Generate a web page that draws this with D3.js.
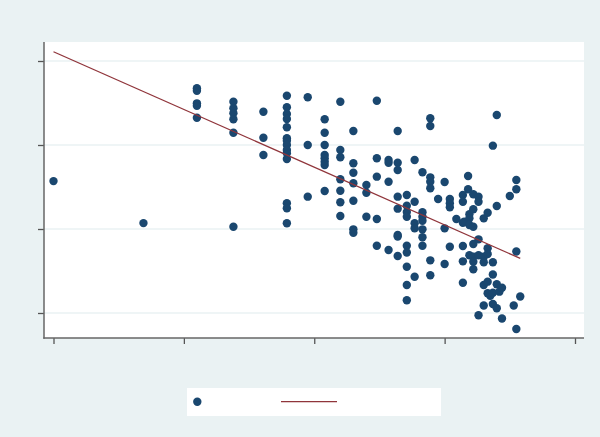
<!DOCTYPE html>
<html>
<head>
<meta charset="utf-8">
<script src="https://cdn.jsdelivr.net/npm/d3@7"></script>
<style>
  html, body { margin: 0; padding: 0; background: #EAF2F3; }
  svg { display: block; }
</style>
</head>
<body>
<svg id="chart" width="600" height="437"></svg>
<script>
// ---- data ----
const pointX = [
  0, 6.9,
  11.0, 11.0, 11.0, 11.0, 11.0,
  13.8, 13.8, 13.8, 13.8, 13.8, 13.8,
  16.1, 16.1, 16.1,
  17.9, 17.9, 17.9, 17.9, 17.9, 17.9, 17.9, 17.9, 17.9, 17.9, 17.9, 17.9, 17.9, 17.9,
  19.5, 19.5, 19.5,
  20.8, 20.8, 20.8, 20.8, 20.8, 20.8, 20.8, 20.8,
  22.0, 22.0, 22.0, 22.0, 22.0, 22.0, 22.0,
  23.0, 23.0, 23.0, 23.0, 23.0, 23.0, 23.0,
  24.0, 24.0, 24.0,
  24.8, 24.8, 24.8, 24.8, 24.8,
  25.7, 25.7, 25.7, 25.7,
  26.4, 26.4, 26.4, 26.4, 26.4, 26.4, 26.4, 26.4,
  27.1, 27.1, 27.1, 27.1, 27.1, 27.1, 27.1, 27.1, 27.1,
  27.7, 27.7, 27.7, 27.7, 27.7,
  28.3, 28.3, 28.3, 28.3, 28.3, 28.3, 28.3,
  28.9, 28.9, 28.9, 28.9, 28.9, 28.9, 28.9,
  29.5,
  30.0, 30.0, 30.0,
  30.4, 30.4, 30.4, 30.4,
  30.9,
  31.4, 31.4, 31.4, 31.4, 31.4, 31.4,
  31.5,
  31.8, 31.8,
  31.9, 31.9, 31.9, 31.9,
  32.2, 32.2, 32.2, 32.2, 32.2, 32.2, 32.2,
  32.6, 32.6, 32.6, 32.6, 32.6,
  33.0, 33.0, 33.0, 33.0, 33.0,
  33.3, 33.3, 33.3, 33.3, 33.3,
  33.5,
  33.7, 33.7, 33.7, 33.7, 33.7,
  34.0, 34.0, 34.0, 34.0,
  34.2,
  34.4, 34.4,
  35.0,
  35.3,
  35.5, 35.5, 35.5, 35.5,
  35.8
];
const pointY = [
  15.7, 10.7,
  26.75, 26.46, 24.96, 24.68, 23.25,
  25.15, 24.37, 23.77, 23.06, 21.46, 10.27,
  23.96, 20.87, 18.81,
  25.87, 24.49, 23.69, 23.10, 22.11, 20.80, 20.51, 20.0, 19.40, 19.01, 18.33, 13.06, 12.46, 10.68,
  25.68, 20.0, 13.85,
  23.06, 21.46, 20.0, 18.81, 18.42, 18.01, 17.62, 14.52,
  25.15, 19.40, 18.54, 15.92, 14.56, 13.18, 11.55,
  21.67, 17.82, 16.70, 15.44, 13.37, 9.96, 9.56,
  15.24, 14.32, 11.46,
  25.27, 18.42, 16.23, 11.19, 8.01,
  18.21, 17.89, 15.63, 7.5,
  21.67, 17.89, 17.02, 13.85, 12.42, 9.29, 9.1, 6.79,
  14.05, 12.77, 12.02, 11.46, 8.01, 7.2, 5.51, 3.33, 1.51,
  18.21, 13.25, 10.68, 10.08, 4.32,
  16.75, 11.99, 11.46, 10.99, 9.96, 9.01, 8.01,
  23.18, 22.26, 16.15, 15.63, 14.85, 6.27, 4.5,
  13.57,
  15.6, 10.08, 5.83,
  13.57, 13.06, 12.58, 7.89,
  11.19,
  14.05, 13.25, 10.75, 7.98, 6.15, 3.61,
  10.87,
  16.31, 14.73,
  11.75, 11.27, 10.48, 6.87,
  14.13, 12.35, 10.27, 8.21, 6.70, 6.11, 5.2,
  13.85, 13.25, 8.77, 6.87, -0.27,
  11.27, 6.70, 6.04, 3.33, 0.89,
  11.94, 7.70, 7.02, 3.73, 2.35,
  2.06,
  19.92, 6.04, 4.58, 2.42, 1.07,
  23.57, 12.74, 3.42, 0.56,
  2.54,
  3.01, -0.65,
  13.93,
  0.89,
  15.83, 14.73, 7.32, -1.90,
  1.96
];
const fitX = [0, 35.8];
const fitY = [31.1, 6.5];
const xTicks = [0, 10, 20, 30, 40];
const yTicks = [0, 10, 20, 30];

// ---- layout ----
const plot = { left: 44, right: 584, top: 42, bottom: 338 };
const svg = d3.select("#chart");

const x = d3.scaleLinear().domain([0, 40]).range([53.5, 575]);
const y = d3.scaleLinear().domain([0, 30]).range([313, 61]);

// white plot region
svg.append("rect")
  .attr("x", plot.left).attr("y", plot.top)
  .attr("width", plot.right - plot.left).attr("height", plot.bottom - plot.top)
  .attr("fill", "#ffffff");

// gridlines
svg.append("g").selectAll("line").data(yTicks).join("line")
  .attr("x1", plot.left).attr("x2", plot.right)
  .attr("y1", d => y(d)).attr("y2", d => y(d))
  .attr("stroke", "#EAF2F3").attr("stroke-width", 1.5);

// points
svg.append("g").selectAll("circle").data(pointX.map((v, i) => [v, pointY[i]])).join("circle")
  .attr("cx", d => x(d[0])).attr("cy", d => y(d[1]))
  .attr("r", 4.2)
  .attr("fill", "#1A476F");

// fitted line
svg.append("path")
  .datum(fitX.map((v, i) => [v, fitY[i]]))
  .attr("d", d3.line().x(d => x(d[0])).y(d => y(d[1])))
  .attr("fill", "none").attr("stroke", "#90353B").attr("stroke-width", 1.3);

// axes
const yAxis = svg.append("g")
  .attr("transform", `translate(${plot.left},0)`)
  .call(d3.axisLeft(y).tickValues(yTicks).tickFormat("").tickSize(6).tickSizeOuter(0));
const xAxis = svg.append("g")
  .attr("transform", `translate(0,${plot.bottom})`)
  .call(d3.axisBottom(x).tickValues(xTicks).tickFormat("").tickSize(6).tickSizeOuter(0));

[yAxis, xAxis].forEach(g => {
  g.select(".domain").remove();
  g.selectAll(".tick line").attr("stroke", "#555").attr("stroke-width", 1.3);
});
svg.append("line")
  .attr("x1", plot.left).attr("x2", plot.left)
  .attr("y1", plot.top).attr("y2", plot.bottom + 0.7)
  .attr("stroke", "#666").attr("stroke-width", 1.5);
svg.append("line")
  .attr("x1", plot.left - 0.7).attr("x2", plot.right)
  .attr("y1", plot.bottom).attr("y2", plot.bottom)
  .attr("stroke", "#666").attr("stroke-width", 1.5);

// legend
const lg = svg.append("g");
lg.append("rect").attr("x", 187).attr("y", 388).attr("width", 254).attr("height", 28).attr("fill", "#ffffff");
lg.append("circle").attr("cx", 197.3).attr("cy", 401.7).attr("r", 4.2).attr("fill", "#1A476F");
lg.append("line").attr("x1", 281).attr("x2", 337).attr("y1", 401.7).attr("y2", 401.7)
  .attr("stroke", "#90353B").attr("stroke-width", 1.3);
lg.append("text").attr("x", 207).attr("y", 406).attr("font-family", "Liberation Sans, Arial, sans-serif").attr("font-size", 11).text("");
</script>
</body>
</html>
